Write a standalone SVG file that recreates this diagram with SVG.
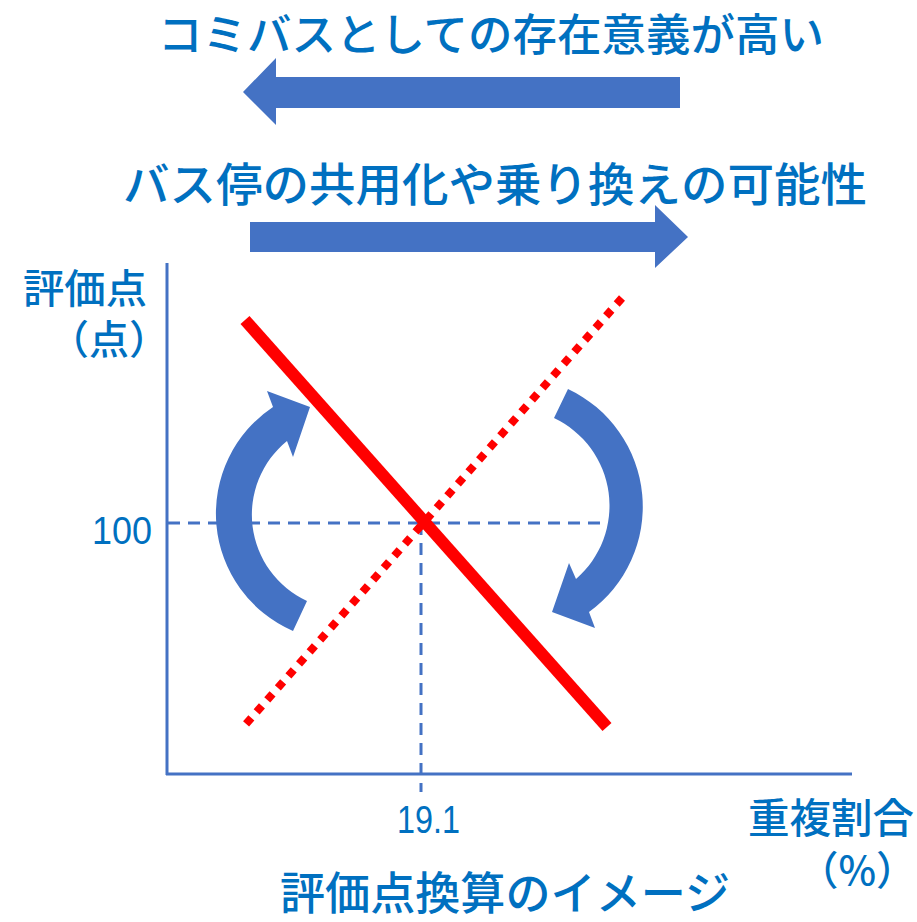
<svg xmlns="http://www.w3.org/2000/svg" width="917" height="922" viewBox="0 0 917 922">
<style>
.t{fill:#0070C0;font-family:"Noto Sans CJK JP","Noto Sans",sans-serif;font-weight:500;}
.n{fill:#0070C0;font-family:"Liberation Sans",Arial,sans-serif;}
.ax{stroke:#4472C4;stroke-width:3;fill:none;}
.dash{stroke:#4472C4;stroke-width:3;fill:none;stroke-dasharray:12 8;}
.blue{fill:#4472C4;}
</style>
<rect width="917" height="922" fill="#fff"/>
<g id="title-top">
<text class="t" x="158" y="51" font-size="44" textLength="666" lengthAdjust="spacingAndGlyphs">コミバスとしての存在意義が高い</text>
</g>
<g id="arrow-left">
<polygon class="blue" points="243,92 276,58 276,77 680,77 680,108 276,108 276,125"/>
</g>
<g id="title-second">
<text class="t" x="123" y="201" font-size="46" textLength="744" lengthAdjust="spacingAndGlyphs">バス停の共用化や乗り換えの可能性</text>
</g>
<g id="arrow-right">
<polygon class="blue" points="250,222 655,222 655,205 688,237 655,268 655,252 250,252"/>
</g>
<g id="axes">
<line class="ax" x1="167" y1="263" x2="167" y2="775"/>
<line class="ax" x1="166" y1="774" x2="852" y2="774"/>
</g>
<g id="guides">
<line class="dash" x1="168" y1="523" x2="600" y2="523"/>
<line class="dash" x1="421" y1="523" x2="421" y2="792"/>
</g>
<g id="ylabel">
<text class="t" x="23" y="303" font-size="40" textLength="124" lengthAdjust="spacingAndGlyphs">評価点</text>
<text class="t" x="49" y="354" font-size="40">（点）</text>
</g>
<g id="ytick">
<text class="n" x="92" y="544" font-size="38" textLength="60" lengthAdjust="spacingAndGlyphs">100</text>
</g>
<g id="xtick">
<text class="n" x="397" y="833" font-size="38" textLength="63" lengthAdjust="spacingAndGlyphs">19.1</text>
</g>
<g id="xlabel">
<text class="t" x="748" y="833" font-size="41" textLength="166" lengthAdjust="spacingAndGlyphs">重複割合</text>
<text class="t" x="916" y="885" font-size="40" text-anchor="end">（%）</text>
</g>
<g id="curve-left">
<path class="blue" d="M293,631 A128,128 0 0 1 273,407 L267,391 L310,407 L293,457 L287,441 A95,95 0 0 0 307,601 Z"/>
</g>
<g id="curve-right">
<path class="blue" d="M568,389 A130,130 0 0 1 589,612 L595,628 L552,612 L569,563 L576,579 A97,97 0 0 0 554,418 Z"/>
</g>
<g id="connectors">
<line x1="245" y1="320" x2="607" y2="727" stroke="#FF0000" stroke-width="12"/>
<line x1="622" y1="298" x2="245" y2="725" stroke="#FF0000" stroke-width="8" stroke-dasharray="8 8"/>
</g>
<g id="caption">
<text class="t" x="280" y="910" font-size="45" textLength="450" lengthAdjust="spacingAndGlyphs">評価点換算のイメージ</text>
</g>
</svg>
